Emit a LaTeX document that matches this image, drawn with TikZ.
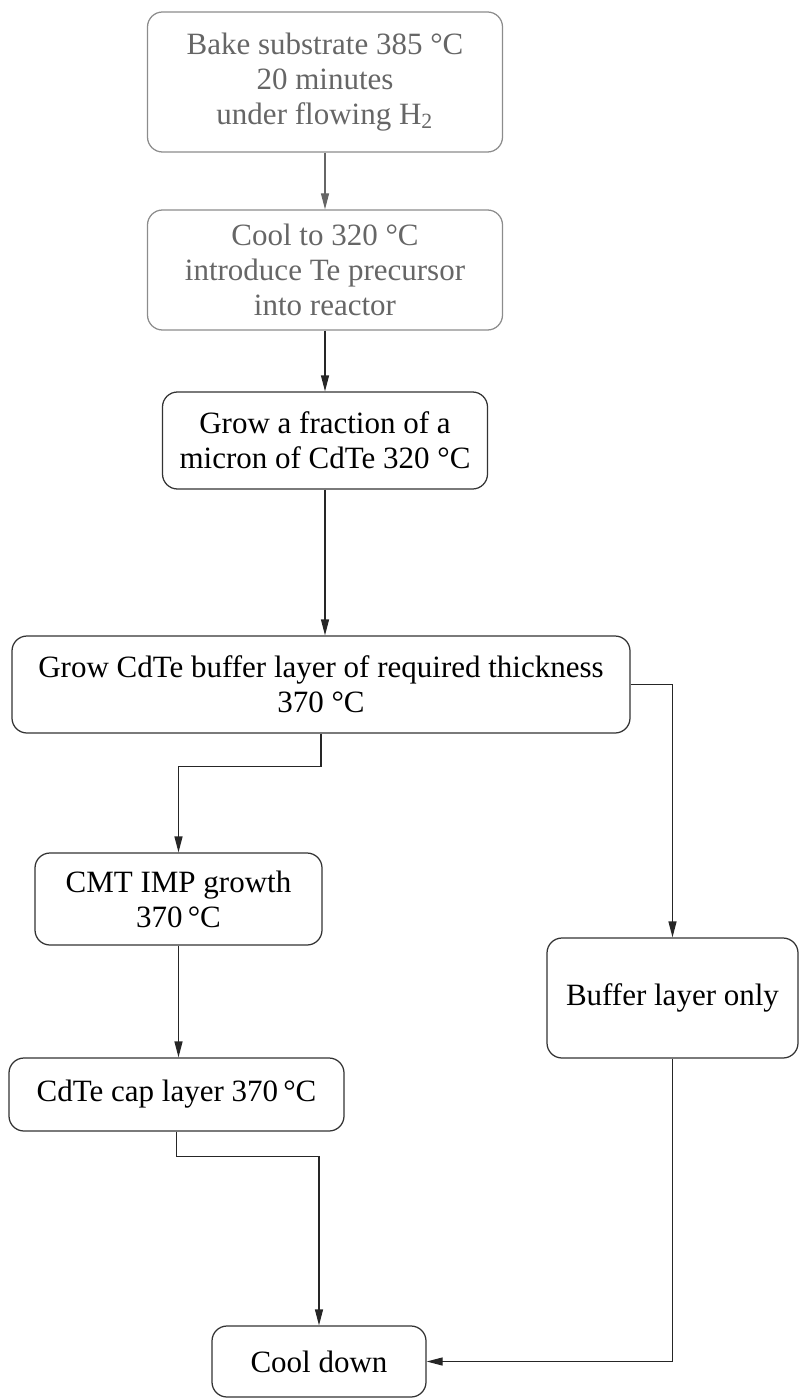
\documentclass[tikz,border=0pt]{standalone}
\usepackage{fontspec}
\setmainfont{Liberation Serif}
\usetikzlibrary{arrows.meta}
\begin{document}
\begin{tikzpicture}[x=0.4pt,y=-0.4pt]
			\tikzset{kasten/.style={rectangle, rounded corners=6pt, draw=black!80, line width=0.5pt, inner sep=0pt, align=center, font=\fontsize{12.4}{14}\selectfont},
			blass/.style={draw=black!45, text=black!60},
			pfeil/.style={line width=0.5pt, draw=black!85, -{Triangle[length=6.4pt,width=3.2pt]}}}
\useasboundingbox (0,0) rectangle (800,1398);

\node[kasten, blass, minimum width=142pt, minimum height=56pt] at (325, 82) (a) {Bake substrate 385 °C\\20 minutes\\under flowing H\textsubscript{2}};
\node[kasten, blass, minimum width=142pt, minimum height=48pt] at (325, 270) (b) {Cool to 320 °C\\introduce Te precursor\\into reactor};
\node[kasten, minimum width=130pt, minimum height=38.8pt] at (325, 440.5) (c) {Grow a fraction of a\\micron of CdTe 320 °C};
\node[kasten, minimum width=247.2pt, minimum height=38.8pt] at (321, 684.5) (d) {Grow CdTe buffer layer of required thickness\\370 °C};
\node[kasten, minimum width=114.8pt, minimum height=36.8pt] at (178.5, 899) (e) {CMT IMP growth\\370\,°C};
\node[kasten, minimum width=134pt, minimum height=29.2pt] at (176.5, 1094.5) (f) {CdTe cap layer 370\,°C};
\node[kasten, minimum width=100.4pt, minimum height=48pt] at (672.5, 998) (g) {Buffer layer only};
\node[kasten, minimum width=85.6pt, minimum height=28.4pt] at (319, 1361.5) (h) {Cool down};
			\draw [pfeil, draw=black!60] (a) -- (b);
			\draw [pfeil] (b) -- (c);
			\draw [pfeil] (c) -- (c |- d.north);
			\draw [pfeil] (d.south) -- ++(0,33) -| (e.north);
			\draw [pfeil] (d.east) -| (g.north);
			\draw [pfeil] (e) -- (e |- f.north);
			\draw [pfeil] (f.south) -- ++(0,25) -| (h.north);
			\draw [pfeil] (g.south) |- (h.east);
		\end{tikzpicture}
\end{document}
